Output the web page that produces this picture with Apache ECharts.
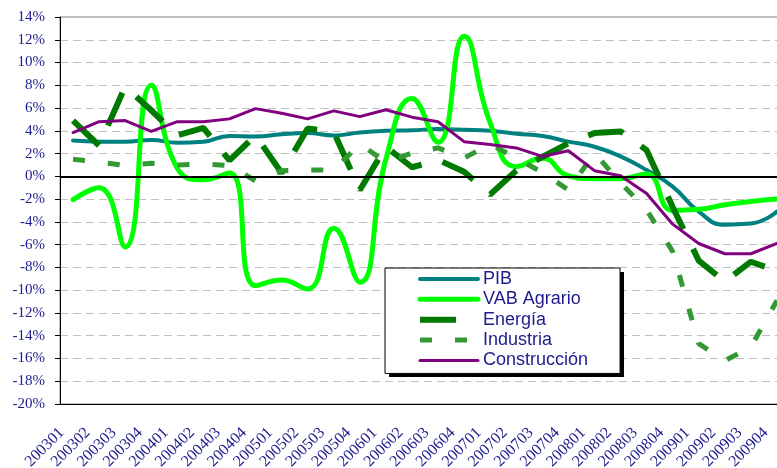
<!DOCTYPE html>
<html>
<head>
<meta charset="utf-8">
<script src="https://cdn.jsdelivr.net/npm/echarts@6.0.0/dist/echarts.min.js"></script>
<style>
  html, body { margin: 0; padding: 0; background: #fff; overflow: hidden; }
  #main { width: 777px; height: 468px; }
</style>
</head>
<body>
<div id="main"></div>
<script>
  // trimestres 2003-2009
  var trimestres = [
    "200301", "200302", "200303", "200304", "200401", "200402", "200403", "200404",
    "200501", "200502", "200503", "200504", "200601", "200602", "200603", "200604",
    "200701", "200702", "200703", "200704", "200801", "200802", "200803", "200804",
    "200901", "200902", "200903", "200904"
  ];

  // tasas de variacion interanual (%)
  var pib = [3.15, 3.05, 3.05, 3.2, 2.95, 3.05, 3.55, 3.5, 3.7, 3.8, 3.6, 3.85, 4.0, 4.05,
    4.15, 4.1, 4.0, 3.75, 3.55, 3.05, 2.6, 1.75, 0.55, -0.9, -3.1, -4.25, -4.15, -3.1];
  var vabAgrario = [-2.05, -1.0, -6.2, 8.0, 0.7, -0.3, 0.3, -9.6, -9.1, -9.9, -4.55, -9.3, 1.5, 6.85,
    3.0, 12.3, 4.7, 0.85, 1.6, 0.05, -0.2, -0.2, 0.2, -3.0, -2.9, -2.5, -2.2, -2.0];
  var energia = [4.9, 2.7, 7.9, 5.8, 3.6, 4.25, 1.4, 3.6, 0.3, 4.2, 3.9, -1.2, 2.6, 0.8,
    1.45, 0.4, -1.6, 0.5, 1.7, 2.9, 3.8, 3.95, 2.3, -2.7, -7.4, -9.25, -7.5, -8.3];
  var industria = [1.5, 1.25, 0.95, 1.15, 1.0, 1.1, 0.95, -0.4, 0.5, 0.55, 0.55, 2.85, 1.25, 2.05,
    2.5, 1.6, 2.85, 1.6, 0.35, -1.2, 2.05, -0.55, -2.95, -6.6, -14.7, -16.2, -15.0, -10.9];
  var construccion = [3.85, 4.8, 4.9, 3.95, 4.8, 4.8, 5.05, 5.95, 5.55, 5.05, 5.75, 5.25, 5.85, 5.2,
    4.8, 3.05, 2.8, 2.5, 1.75, 2.25, 0.5, 0.05, -1.5, -4.2, -5.9, -6.8, -6.8, -5.9];

  var azul = "#1c1c8c";
  var myChart = echarts.init(document.getElementById("main"));

  var option = {
    animation: false,
    backgroundColor: "#fff",
    grid: {
      left: 60,
      top: 17,
      right: -13,
      bottom: 64,
      outerBoundsMode: "none",
      show: true,
      borderColor: "#808080",
      borderWidth: 1
    },
    // sombra negra de la leyenda
    graphic: [
      {
        type: "rect",
        left: 389,
        top: 272,
        z: 3,
        shape: { width: 235, height: 105 },
        style: { fill: "#000" }
      }
    ],
    legend: {
      orient: "vertical",
      left: 385,
      top: 268,
      z: 5,
      padding: [1, 32, 3, 32],
      itemWidth: 58,
      itemHeight: 20,
      itemGap: 0.35,
      backgroundColor: "#fff",
      borderColor: "#000",
      borderWidth: 1,
      itemStyle: { opacity: 0 },
      textStyle: {
        color: azul,
        fontFamily: "Liberation Sans",
        fontSize: 18,
        lineHeight: 20
      },
      data: [
        { name: "PIB", lineStyle: { width: 4 } },
        { name: "VAB Agrario", lineStyle: { width: 5 } },
        { name: "Energía", lineStyle: { width: 6 } },
        { name: "Industria", lineStyle: { width: 5 } },
        { name: "Construcción", lineStyle: { width: 3 } }
      ]
    },
    xAxis: {
      type: "category",
      data: trimestres,
      boundaryGap: true,
      axisLine: { onZero: false, lineStyle: { color: "#000", width: 1 } },
      axisTick: { length: 5, lineStyle: { color: "#000" } },
      axisLabel: {
        interval: 0,
        rotate: 45,
        margin: 15,
        padding: [0, 16, 0, 0],
        color: azul,
        fontFamily: "Liberation Serif",
        fontSize: 16
      }
    },
    yAxis: {
      type: "value",
      min: -20,
      max: 14,
      interval: 2,
      axisLine: { show: true, lineStyle: { color: "#000", width: 1 } },
      axisTick: { show: true, length: 5, lineStyle: { color: "#000" } },
      axisLabel: {
        formatter: "{value}%",
        margin: 15,
        color: azul,
        fontFamily: "Liberation Serif",
        fontSize: 15
      },
      splitLine: {
        lineStyle: { color: "#c0c0c0", type: [8, 5], width: 1 }
      }
    },
    series: [
      {
        name: "PIB",
        type: "line",
        data: pib,
        smooth: true,
        symbol: "none",
        lineStyle: { color: "#008080", width: 4, cap: "round" },
        itemStyle: { color: "#008080" }
      },
      {
        name: "VAB Agrario",
        type: "line",
        data: vabAgrario,
        smooth: true,
        symbol: "none",
        lineStyle: { color: "#00ff00", width: 5, cap: "round" },
        itemStyle: { color: "#00ff00" }
      },
      {
        name: "Energía",
        type: "line",
        data: energia,
        symbol: "none",
        lineStyle: { color: "#007a00", width: 6, type: [36, 22] },
        itemStyle: { color: "#007a00" }
      },
      {
        name: "Industria",
        type: "line",
        data: industria,
        symbol: "none",
        lineStyle: { color: "#339933", width: 5, type: [12, 23] },
        itemStyle: { color: "#339933" }
      },
      {
        name: "Construcción",
        type: "line",
        data: construccion,
        symbol: "none",
        lineStyle: { color: "#800080", width: 3, cap: "round" },
        itemStyle: { color: "#800080" },
        // linea del 0%
        markLine: {
          silent: true,
          symbol: "none",
          label: { show: false },
          lineStyle: { color: "#000", width: 2, type: "solid" },
          data: [{ yAxis: 0 }]
        }
      }
    ]
  };

  myChart.setOption(option);
</script>
</body>
</html>
